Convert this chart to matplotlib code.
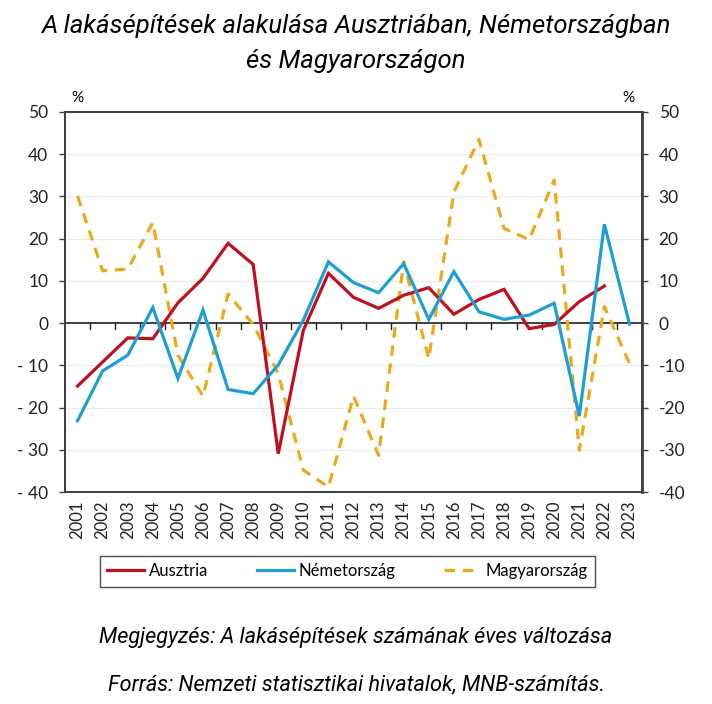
import matplotlib
matplotlib.use("Agg")
import matplotlib.pyplot as plt
from matplotlib.lines import Line2D

years = [str(y) for y in range(2001, 2024)]
ausztria = [-14.9, -9.2, -3.5, -3.7, 4.8, 10.6, 18.9, 13.9, -30.9, -1.7, 11.8, 6.1,
            3.5, 6.6, 8.4, 2.1, 5.6, 8.0, -1.3, -0.3, 5.1, 8.8, None]
nemetorszag = [-23.1, -11.3, -7.6, 3.7, -13.1, 3.1, -15.7, -16.7, -9.9, 0.7, 14.5, 9.6,
               7.2, 14.1, 0.9, 12.2, 2.7, 0.9, 1.9, 4.7, -22.0, 23.4, -0.2]
magyarorszag = [30.1, 12.4, 12.8, 23.8, -7.6, -17.3, 6.9, -0.3, -12.0, -34.8, -38.8, -17.3,
                -31.3, 14.5, -8.4, 31.0, 43.5, 22.4, 19.8, 33.9, -30.1, 3.9, -9.5]
yticks = [50, 40, 30, 20, 10, 0, -10, -20, -30, -40]
left_labels = ["50", "40", "30", "20", "10", "0", "- 10", "- 20", "- 30", "- 40"]
right_labels = ["50", "40", "30", "20", "10", "0", "-10", "-20", "-30", "-40"]

title = "A lakásépítések alakulása Ausztriában, Németországban\nés Magyarországon"
note = "Megjegyzés: A lakásépítések számának éves változása"
source = "Forrás: Nemzeti statisztikai hivatalok, MNB-számítás."

c_red = "#C00F1E"
c_blue = "#1E9FD3"
c_gold = "#EBAA1E"
spine_c = "#404040"
tick_font = "Lato"
text_font = "Roboto"

fig = plt.figure(figsize=(7.12, 7.04), dpi=100)
ax = fig.add_axes([0.0913, 0.301, 0.8104, 0.540])

x = list(range(len(years)))
a_x = [i for i, v in zip(x, ausztria) if v is not None]
a_y = [v for v in ausztria if v is not None]
ax.plot(a_x, a_y, color=c_red, lw=2.3, solid_joinstyle="miter", zorder=4)
ax.plot(x, nemetorszag, color=c_blue, lw=2.3, solid_joinstyle="miter", zorder=4)
ax.plot(x, magyarorszag, color=c_gold, lw=2.3, dashes=(3.3, 2.4), zorder=3)

ax.set_xlim(-0.5, len(years) - 0.5)
ax.set_ylim(-40, 50)
ax.set_yticks(yticks)
ax.set_yticklabels(left_labels, fontsize=12.5, family=tick_font, color="#222222")
ax.grid(axis="y", color="#EBEBEB", lw=0.8)
ax.set_axisbelow(True)
ax.tick_params(axis="y", direction="out", length=4, width=1, color=spine_c, pad=8)

ax.set_xticks(x)
ax.set_xticklabels(years, rotation=90, fontsize=12, family=tick_font, color="#222222")
ax.tick_params(axis="x", length=0, pad=6)

# zero line with category boundary ticks
ax.axhline(0, color="#222222", lw=1.2, zorder=2)
for i in range(len(years) - 1):
    ax.plot([i + 0.5, i + 0.5], [0, -1.4], color="#222222", lw=1.0, zorder=2)

for s in ax.spines.values():
    s.set_color(spine_c)
    s.set_linewidth(1.3)

ax2 = ax.twinx()
ax2.set_ylim(-40, 50)
ax2.set_yticks(yticks)
ax2.set_yticklabels(right_labels, fontsize=12.5, family=tick_font, color="#222222")
ax2.tick_params(axis="y", direction="out", length=4, width=1, color=spine_c, pad=8)
for s in ax2.spines.values():
    s.set_color(spine_c)
    s.set_linewidth(1.3)
ax2.spines["right"].set_linewidth(2.0)

fig.text(77 / 712, 1 - 98 / 704, "%", fontsize=11, family=tick_font, ha="center", va="center")
fig.text(628 / 712, 1 - 98 / 704, "%", fontsize=11, family=tick_font, ha="center", va="center")

fig.text(0.5, 1 - 26 / 704, title.split("\n")[0], ha="center", va="center", fontsize=18.5,
         style="italic", family=text_font)
fig.text(0.5, 1 - 61 / 704, title.split("\n")[1], ha="center", va="center", fontsize=18.5,
         style="italic", family=text_font)
fig.text(0.5, 1 - 638 / 704, note, ha="center", va="center", fontsize=15.6,
         style="italic", family=text_font)
fig.text(0.5, 1 - 685 / 704, source, ha="center", va="center", fontsize=15.6,
         style="italic", family=text_font)

handles = [
    Line2D([], [], color=c_red, lw=2.3),
    Line2D([], [], color=c_blue, lw=2.3),
    Line2D([], [], color=c_gold, lw=2.3, dashes=(3.3, 2.4)),
]
leg = fig.legend(handles, ["Ausztria", "Németország", "Magyarország"], ncol=3,
                 loc="center", bbox_to_anchor=(347.5 / 712, 1 - 571 / 704),
                 frameon=True, fancybox=False, edgecolor="#222222",
                 prop={"family": tick_font, "size": 12}, handlelength=2.2,
                 handletextpad=0.3, columnspacing=2.9, borderpad=0.45)
leg.get_frame().set_linewidth(1.0)

fig.savefig("out.png", dpi=100, facecolor="white")
